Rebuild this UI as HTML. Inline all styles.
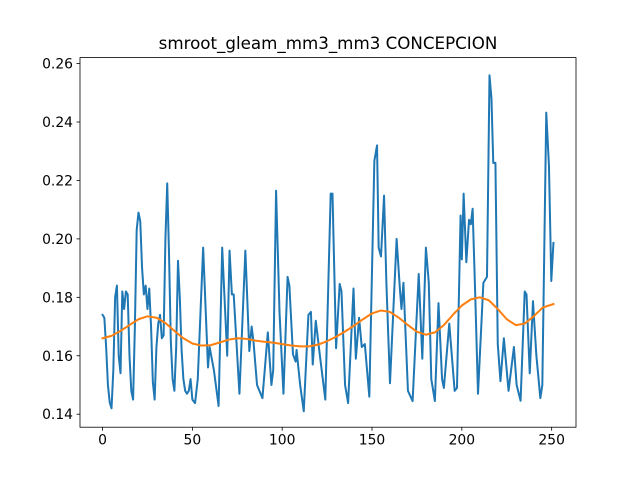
<!DOCTYPE html>
<html><head><meta charset="utf-8"><style>
html,body{margin:0;padding:0;background:#fff;}
svg{display:block;font-family:"DejaVu Sans","Liberation Sans",sans-serif;}
</style></head><body>
<svg id="chart" width="640" height="480" viewBox="0 0 640 480" xmlns="http://www.w3.org/2000/svg">
<rect width="640" height="480" fill="#fff"/>
<text x="328" y="49" text-anchor="middle" font-size="16.7px" fill="#000">smroot_gleam_mm3_mm3 CONCEPCION</text>
<g id="plot"></g>
</svg>
<script>
const blueX = [0,1,2,3,4,5,6,7,8,9,10,11,12,13,14,15,16,17,18,19,20,21,22,23,24,25,26,27,28,29,30,31,32,33,34,35,36,37,38,39,40,41,42,43,44,45,46,47,48,49,50,51.5,53,56,58.7,59.6,62,64.6,66.6,69.4,70.7,72,73,76.2,79.5,81.7,83,84,86,89,92,94,95,96.6,98.5,100.7,103,104,106,107.5,108,110,112,114.6,116,117,118.7,121,124,127,128,130,132,133,135,136.7,139.7,141,142.8,144.3,146,148.5,151.3,152.8,153.7,155,156.7,158,160,163.7,165.5,166.4,167.5,170,172.6,176,178,180,181.6,183,185,187,189,190,191.5,193,196,197.3,199.3,200,201,202.5,204,205,206,207.5,209,212,214,215.4,216.5,217.5,218.7,220,221.5,223.4,226,229,230.5,232.7,235,236,237.8,239.6,241.5,243.7,244.8,247,248.5,249.8,251];
const blueY = [0.174,0.173,0.163,0.150,0.144,0.142,0.155,0.180,0.184,0.160,0.154,0.182,0.176,0.182,0.181,0.160,0.148,0.145,0.170,0.203,0.209,0.206,0.190,0.181,0.184,0.176,0.183,0.170,0.151,0.145,0.163,0.171,0.174,0.166,0.167,0.200,0.219,0.195,0.165,0.152,0.148,0.163,0.1925,0.180,0.162,0.152,0.148,0.147,0.148,0.152,0.145,0.1438,0.152,0.197,0.156,0.163,0.155,0.1428,0.197,0.160,0.196,0.181,0.181,0.147,0.196,0.1616,0.170,0.165,0.150,0.1455,0.168,0.150,0.155,0.2165,0.175,0.147,0.187,0.184,0.1605,0.158,0.162,0.150,0.141,0.174,0.175,0.157,0.172,0.160,0.145,0.2155,0.2155,0.1626,0.1846,0.182,0.150,0.1438,0.183,0.159,0.173,0.163,0.164,0.146,0.2267,0.232,0.197,0.194,0.2148,0.185,0.1506,0.200,0.183,0.176,0.185,0.148,0.1445,0.188,0.159,0.197,0.185,0.152,0.1445,0.178,0.152,0.149,0.160,0.171,0.148,0.149,0.208,0.193,0.2155,0.192,0.2065,0.205,0.2103,0.180,0.147,0.185,0.187,0.256,0.248,0.226,0.226,0.164,0.1513,0.166,0.148,0.163,0.150,0.1446,0.182,0.181,0.154,0.1787,0.160,0.1455,0.150,0.2432,0.225,0.1856,0.1986];
const orangeX = [0,5,10,15,20,25,30,35,40,45,50,55,60,65,70,75,80,85,90,95,100,105,110,115,120,125,130,135,140,145,150,155,160,165,170,175,180,185,190,195,200,205,210,215,220,225,230,235,240,245,251];
const orangeY = [0.1660,0.1668,0.1685,0.1705,0.1725,0.1735,0.1730,0.1712,0.1685,0.1660,0.1642,0.1635,0.1636,0.1645,0.1655,0.1660,0.1658,0.1652,0.1648,0.1645,0.1640,0.1635,0.1632,0.1632,0.1638,0.1650,0.1665,0.1683,0.1703,0.1725,0.1745,0.1755,0.1750,0.1730,0.1705,0.1682,0.1672,0.1680,0.1705,0.1740,0.1772,0.1793,0.1800,0.1790,0.1760,0.1725,0.1705,0.1710,0.1735,0.1765,0.1777];
const xTicks = [0,50,100,150,200,250];
const yTicks = [0.14,0.16,0.18,0.20,0.22,0.24,0.26];

const L=80,R=576,T=57.6,B=427.2;
const xMin=-12.55,xMax=263.55,yMin=0.13555,yMax=0.26205;
const sx=v=>L+(v-xMin)/(xMax-xMin)*(R-L);
const sy=v=>B-(v-yMin)/(yMax-yMin)*(B-T);
const NS="http://www.w3.org/2000/svg";
const g=document.getElementById('plot');
function mk(tag,attrs){const e=document.createElementNS(NS,tag);for(const k in attrs)e.setAttribute(k,attrs[k]);g.appendChild(e);return e;}

function line(xs,ys,color,name){
  const d=xs.map((x,i)=>(i?'L':'M')+sx(x).toFixed(2)+' '+sy(ys[i]).toFixed(2)).join(' ');
  const p=mk('path',{d:d,fill:'none',stroke:color,'stroke-width':2,'stroke-linejoin':'round','stroke-linecap':'square'});
  
  
}
line(blueX,blueY,'#1f77b4','series-raw');
line(orangeX,orangeY,'#ff7f0e','series-smoothed');

const frame=mk('rect',{x:L,y:T,width:R-L,height:B-T,fill:'none',stroke:'#000','stroke-width':0.8});



xTicks.forEach(t=>{
  const x=sx(t);
  const tk=mk('line',{x1:x,x2:x,y1:B,y2:B+3.5,stroke:'#000','stroke-width':0.8});
  
  
  const tx=mk('text',{x:x,y:B+17.5,'text-anchor':'middle','font-size':'13.9px',fill:'#000'});
  tx.textContent=String(t);
  
  
});
yTicks.forEach(t=>{
  const y=sy(t);
  const tk=mk('line',{x1:L-3.5,x2:L,y1:y,y2:y,stroke:'#000','stroke-width':0.8});
  
  
  const tx=mk('text',{x:L-7,y:y+5,'text-anchor':'end','font-size':'13.9px',fill:'#000'});
  tx.textContent=t.toFixed(2);
  
  
});
</script>
</body></html>
